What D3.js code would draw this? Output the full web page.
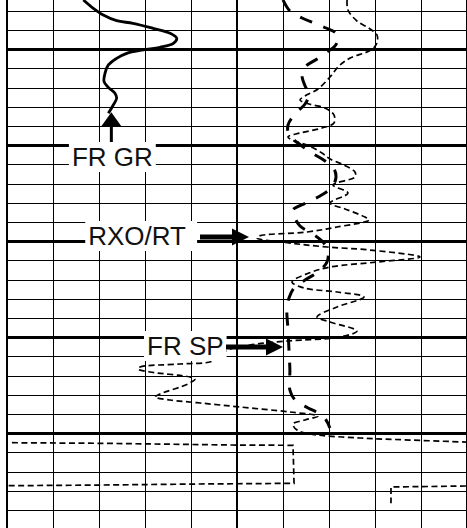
<!DOCTYPE html>
<html>
<head>
<meta charset="utf-8">
<script src="https://cdn.jsdelivr.net/npm/d3@7/dist/d3.min.js"></script>
<style>
	body { margin: 0; background: #fff; }
	svg { display: block; }
	.grid line { stroke: #000; shape-rendering: crispEdges; }
	.label { font-family: "Liberation Sans", Arial, sans-serif; font-size: 26px; fill: #111; }
</style>
</head>
<body>
<svg id="log" width="467" height="528"></svg>
<script>
// gamma ray, track 1 (API)
var grDepth = [4994.83, 4995.70, 4996.40, 4996.99, 4997.26, 4997.78, 4998.30, 4998.82, 4999.34, 4999.76, 5000.04,
	5000.39, 5000.91, 5001.60, 5002.47, 5003.34, 5003.93, 5004.55, 5005.07, 5005.77, 5006.64];
var grApi = [49.8, 56.3, 62.8, 71.5, 82.2, 95.2, 106.3, 110.7, 108.5, 99.8, 88.9,
	78.1, 71.5, 66.1, 63.9, 63.3, 66.1, 70.4, 71.5, 69.3, 66.1];

// spontaneous potential, track 2 (mV)
var spDepth = [4994.83, 4995.98, 4996.71, 4997.23, 4997.75, 4998.27, 4999.00, 4999.73, 5000.25, 5000.98, 5001.81,
	5002.75, 5003.79, 5004.63, 5005.67, 5006.60, 5007.85, 5008.90, 5009.73, 5010.77, 5011.60, 5012.44,
	5013.38, 5014.42, 5015.25, 5015.98, 5016.71, 5017.33, 5018.38, 5019.21, 5020.04, 5021.08, 5022.13,
	5023.17, 5024.00, 5024.83, 5025.88, 5027.13, 5029.21, 5031.29, 5033.38, 5035.46, 5036.60, 5037.33,
	5037.85, 5038.58, 5039.42];
var spMv = [-40.0, -37.0, -31.7, -26.5, -21.3, -17.0, -16.1, -17.8, -20.9, -25.2, -30.4,
	-31.7, -30.4, -28.7, -30.4, -34.4, -37.8, -37.4, -33.5, -27.4, -21.7, -17.8,
	-17.0, -19.1, -23.9, -30.0, -35.7, -35.2, -32.6, -27.0, -22.6, -20.4, -20.9,
	-24.8, -30.4, -35.2, -37.4, -38.3, -37.8, -37.4, -37.0, -37.0, -34.4, -29.1,
	-24.8, -21.3, -19.6];

// rxo/rt ratio, track 2
var rxoDepth = [4994.83, 4995.88, 4997.02, 4997.85, 4998.48, 4999.31, 5000.04, 5000.88, 5001.71, 5002.85, 5004.10,
	5004.83, 5005.25, 5005.67, 5006.08, 5006.81, 5007.65, 5008.17, 5008.69, 5009.10, 5009.42, 5010.04,
	5010.77, 5011.40, 5012.02, 5012.75, 5013.27, 5014.10, 5014.94, 5015.98, 5016.60, 5017.44, 5017.75,
	5018.48, 5019.00, 5019.42, 5019.63, 5020.15, 5020.56, 5020.88, 5021.60, 5022.13, 5022.65, 5023.27,
	5024.21, 5024.83, 5025.25, 5025.77, 5026.81, 5027.85, 5028.38, 5029.31, 5029.94, 5030.35, 5030.77,
	5031.29, 5032.44, 5032.75, 5033.06, 5033.27, 5033.58, 5034.10, 5034.31, 5034.83, 5035.88, 5036.19,
	5036.50, 5036.81, 5037.23, 5037.75, 5038.17, 5038.58, 5039.00, 5039.63, 5040.04, 5040.46, 5040.67,
	5040.88];
var rxoRatio = [0.957, 0.965, 1.043, 1.157, 1.217, 1.217, 1.165, 0.983, 0.887, 0.809, 0.704,
	0.591, 0.548, 0.626, 0.765, 0.843, 0.843, 0.739, 0.548, 0.443, 0.478, 0.626,
	0.739, 0.809, 0.930, 1.026, 1.026, 0.835, 0.965, 0.809, 0.939, 1.113, 1.148,
	0.870, 0.609, 0.191, 0.174, 0.461, 0.783, 1.157, 1.591, 1.217, 0.809, 0.626,
	0.478, 0.583, 0.870, 1.104, 0.870, 0.696, 0.809, 1.043, 0.896, 0.443, 0.113,
	-0.078, -0.209, -0.496, -0.843, -0.861, -0.757, -0.409, -0.365, -0.426, -0.670, -0.713,
	-0.583, -0.322, 0.026, 0.461, 0.704, 0.591, 0.487, 0.522, 0.635, 1.070, 1.504,
	1.991];

// rxo/rt backup (wrapped over the full width)
var wrapDepth = [5040.95, 5041.01, 5041.19, 5041.22, 5045.18, 5045.25, 5045.36, 5045.43];
var wrapRatio = [2.043, 2.809, 3.965, 4.487, 4.496, 3.678, 2.809, 2.000];

// rxo/rt back on scale at the bottom right
var backDepth = [5045.46, 5045.51, 5045.56, 5047.26];
var backRatio = [1.991, 1.678, 1.339, 1.339];

var labels = ["FR GR", "RXO/RT", "FR SP"];

var W = 467,
	H = 528;

var svg = d3.select("#log");

// scales
var y = d3.scaleLinear().domain([4996, 5050]).range([11.2, 529.6]);
var gridX = d3.scaleLinear().domain([0, 10]).range([7, 467]);
var grX = d3.scaleLinear().domain([0, 150]).range([7, 237]);
var spX = d3.scaleLinear().domain([-60, 40]).range([237, 467]);
var rxoX = d3.scaleLinear().domain([0, 2]).range([237, 467]);
var wrapX = d3.scaleLinear().domain([2, 6]).range([7, 467]);

// GRID ---------------------------------------------

var grid = svg.append("g").classed("grid", true);

var depthTicks = d3.range(4996, 5051, 2);

grid
	.selectAll(".hline")
	.data(depthTicks)
	.enter()
	.append("line")
	.classed("hline", true)
	.attr("x1", gridX(0))
	.attr("x2", gridX(10))
	.attr("y1", d => y(d))
	.attr("y2", d => y(d))
	.attr("stroke-width", d => (d % 10 == 0 ? 2.6 : 1));

grid
	.selectAll(".vline")
	.data(d3.range(0, 11))
	.enter()
	.append("line")
	.classed("vline", true)
	.attr("x1", d => gridX(d))
	.attr("x2", d => gridX(d))
	.attr("y1", 0)
	.attr("y2", H)
	.attr("stroke-width", function(d) {
		if (d == 0) return 2.6;
		if (d == 5) return 2;
		return 1;
	})
	.attr("transform", d => (d == 10 ? "translate(-1,0)" : null));

// CURVES -------------------------------------------

function zip(depths, vals) {
	return depths.map((d, i) => ({ d: d, v: vals[i] }));
}

var curves = svg.append("g");

// gamma ray, solid
curves
	.append("path")
	.datum(zip(grDepth, grApi))
	.attr(
		"d",
		d3
			.line()
			.x(d => grX(d.v))
			.y(d => y(d.d))
			.curve(d3.curveCatmullRom)
	)
	.style("fill", "none")
	.style("stroke", "#000")
	.style("stroke-width", 2.8);

// sp, heavy long dashes
curves
	.append("path")
	.datum(zip(spDepth, spMv))
	.attr(
		"d",
		d3
			.line()
			.x(d => spX(d.v))
			.y(d => y(d.d))
			.curve(d3.curveCatmullRom)
	)
	.style("fill", "none")
	.style("stroke", "#000")
	.style("stroke-width", 3)
	.style("stroke-dasharray", "13,12");

// rxo/rt, fine dashes
var rxoLine = d3
	.line()
	.x(d => rxoX(d.v))
	.y(d => y(d.d))
	.curve(d3.curveCatmullRom);

var wrapLine = d3
	.line()
	.x(d => wrapX(d.v))
	.y(d => y(d.d));

var thin = curves
	.append("g")
	.style("fill", "none")
	.style("stroke", "#000")
	.style("stroke-width", 1.7)
	.style("stroke-dasharray", "6,3.5");

thin.append("path").attr("d", rxoLine(zip(rxoDepth, rxoRatio)));
thin.append("path").attr("d", wrapLine(zip(wrapDepth, wrapRatio)));
thin.append("path").attr("d", rxoLine.curve(d3.curveLinear)(zip(backDepth, backRatio)));

// LABELS -------------------------------------------

var notes = svg.append("g");

function addLabel(txt, x, yBase, anchor, padR) {
	var g = notes.append("g");
	var bg = g.append("rect").style("fill", "#fff");
	var t = g
		.append("text")
		.classed("label", true)
		.attr("x", x)
		.attr("y", yBase)
		.attr("text-anchor", anchor)
		.text(txt);
	var bb = t.node().getBBox();
	bg.attr("x", bb.x - 3)
		.attr("y", bb.y)
		.attr("width", bb.width + 3 + (padR || 3))
		.attr("height", bb.height);
	return g;
}

function arrowH(x0, x1, yy) {
	// horizontal arrow pointing right, tip at x1
	notes
		.append("line")
		.attr("x1", x0)
		.attr("x2", x1 - 14)
		.attr("y1", yy)
		.attr("y2", yy)
		.style("stroke", "#000")
		.style("stroke-width", 5);
	notes
		.append("path")
		.attr("d", "M" + x1 + "," + yy + "L" + (x1 - 17) + "," + (yy - 8.5) + "L" + (x1 - 17) + "," + (yy + 8.5) + "Z")
		.style("fill", "#000");
}

// FR GR: arrow up to the end of the gamma ray
var grTip = [grX(grApi[grApi.length - 1]) + 3, y(grDepth[grDepth.length - 1]) - 1];
notes
	.append("line")
	.attr("x1", grTip[0])
	.attr("x2", grTip[0])
	.attr("y1", grTip[1] + 12)
	.attr("y2", grTip[1] + 30)
	.style("stroke", "#000")
	.style("stroke-width", 3);
notes
	.append("path")
	.attr("d", "M" + grTip[0] + "," + grTip[1] + "L" + (grTip[0] - 10) + "," + (grTip[1] + 14) + "L" + (grTip[0] + 10) + "," + (grTip[1] + 14) + "Z")
	.style("fill", "#000");
addLabel(labels[0], grTip[0] + 1, 166, "middle");

// RXO/RT
addLabel(labels[1], 186, 245, "end", 11);
arrowH(200, 249, 237);

// FR SP
addLabel(labels[2], 147, 355, "start");
arrowH(226, 283, 347);
</script>
</body>
</html>
